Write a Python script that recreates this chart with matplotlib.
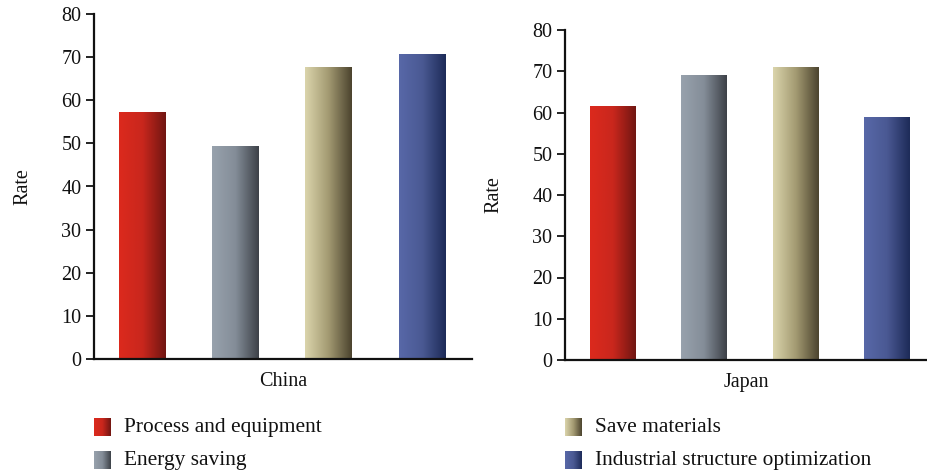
import numpy as np
import matplotlib
matplotlib.use("Agg")
import matplotlib.pyplot as plt
from matplotlib.colors import LinearSegmentedColormap

plt.rcParams['font.family'] = ['Liberation Serif', 'DejaVu Serif']

# Data
categories = ["Process and equipment", "Energy saving", "Save materials",
              "Industrial structure optimization"]
china_rates = [57.1, 49.2, 67.5, 70.6]
japan_rates = [61.5, 68.9, 71.0, 58.7]
yticks = [0, 10, 20, 30, 40, 50, 60, 70, 80]

# Horizontal gradient for each series: light left edge -> dark right edge
gradients = [
    ["#dc2a1d", "#c9271d", "#701612"],
    ["#98a2ad", "#848d98", "#3d4148"],
    ["#dbd5ac", "#a39a72", "#4b432e"],
    ["#5868a8", "#4a5993", "#1d2b58"],
]
cmaps = [LinearSegmentedColormap.from_list(f"g{i}", c) for i, c in enumerate(gradients)]
ramp = np.linspace(0, 1, 256).reshape(1, -1)

FS = 14.5

fig = plt.figure(figsize=(9.28, 4.73), dpi=100)


def panel(rect, values, xlabel, xlim, ylabelpad):
    ax = fig.add_axes(rect)
    x = np.arange(len(values))
    bars = ax.bar(x, values, width=0.5, facecolor="none", edgecolor="none")
    for bar, cmap in zip(bars, cmaps):
        bx, by = bar.get_x(), bar.get_y()
        bw, bh = bar.get_width(), bar.get_height()
        ax.imshow(ramp, cmap=cmap, extent=[bx, bx + bw, by, by + bh],
                  aspect="auto", interpolation="bicubic", zorder=2)
    ax.set_xlim(*xlim)
    ax.set_ylim(0, 80)
    ax.set_yticks(yticks)
    ax.set_xticks([])
    ax.spines["top"].set_visible(False)
    ax.spines["right"].set_visible(False)
    for s in ("left", "bottom"):
        ax.spines[s].set_linewidth(1.6)
        ax.spines[s].set_color("#111111")
    ax.tick_params(axis="y", direction="out", length=6, width=1.3,
                   labelsize=FS, pad=3, colors="#111111")
    ax.set_ylabel("Rate", fontsize=FS, labelpad=ylabelpad, color="#111111")
    ax.set_xlabel(xlabel, fontsize=FS, labelpad=9, color="#111111")
    return ax


panel([94 / 928, 1 - 359 / 473, (472 - 94) / 928, (359 - 14) / 473],
      china_rates, "China", (-0.523, 3.54), 21)
panel([565 / 928, 1 - 360 / 473, (928 - 565) / 928, (360 - 30) / 473],
      japan_rates, "Japan", (-0.525, 3.45), 21)

# Legend: gradient swatches with labels, two columns
legend_pos = [(94, 418), (94, 451), (565, 418), (565, 451)]
for (px, py), label, cmap in zip(legend_pos, categories, cmaps):
    sw = fig.add_axes([px / 928, 1 - (py + 18) / 473, 17 / 928, 18 / 473])
    sw.imshow(ramp, cmap=cmap, aspect="auto", interpolation="bicubic")
    sw.set_axis_off()
    fig.text((px + 30) / 928, 1 - (py + 9) / 473, label, fontsize=15.4,
             va="center", ha="left", color="#111111")

fig.savefig("out.png", dpi=100)
